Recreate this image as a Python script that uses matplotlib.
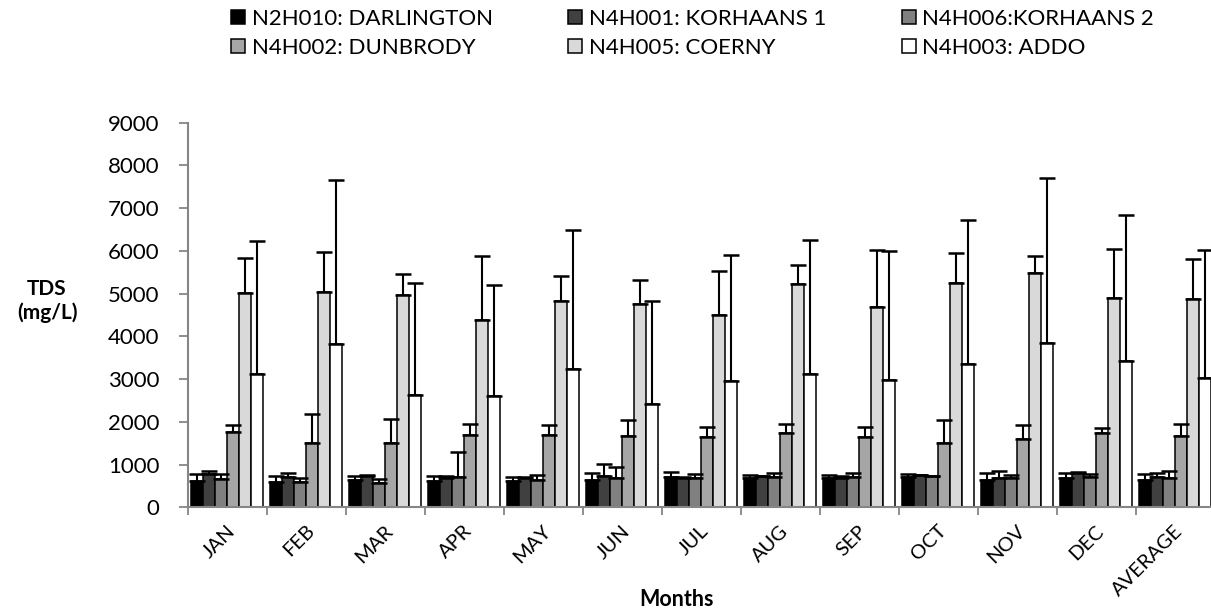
import numpy as np
import matplotlib
matplotlib.use('Agg')
import matplotlib.pyplot as plt
from matplotlib.transforms import ScaledTranslation

plt.rcParams['font.family'] = ['Lato', 'DejaVu Sans']

# datos
meses = ['JAN', 'FEB', 'MAR', 'APR', 'MAY', 'JUN', 'JUL', 'AUG', 'SEP', 'OCT',
         'NOV', 'DEC', 'AVERAGE']

estaciones = ['N2H010: DARLINGTON', 'N4H001: KORHAANS 1', 'N4H006:KORHAANS 2',
              'N4H002: DUNBRODY', 'N4H005: COERNY', 'N4H003: ADDO']

darlington = [620, 590, 640, 620, 620, 640, 700, 680, 690, 720, 650, 690, 650]
darlington_err = [160, 140, 100, 120, 90, 160, 120, 70, 60, 60, 160, 120, 120]

korhaans1 = [770, 720, 730, 680, 680, 740, 680, 730, 690, 750, 680, 810, 710]
korhaans1_err = [70, 90, 20, 50, 20, 270, 20, 10, 50, 10, 180, 10, 100]

korhaans2 = [660, 600, 580, 710, 650, 690, 690, 700, 720, 730, 690, 720, 680]
korhaans2_err = [120, 90, 90, 580, 100, 260, 80, 110, 90, 10, 60, 70, 180]

dunbrody = [1760, 1500, 1510, 1700, 1700, 1680, 1650, 1730, 1650, 1500, 1590, 1750, 1680]
dunbrody_err = [170, 690, 550, 240, 230, 370, 220, 230, 230, 550, 330, 100, 270]

coerny = [5020, 5040, 4960, 4380, 4820, 4760, 4490, 5230, 4680, 5250, 5490, 4900, 4880]
coerny_err = [820, 940, 500, 1500, 600, 550, 1040, 450, 1340, 710, 390, 1150, 940]

addo = [3110, 3810, 2630, 2600, 3240, 2420, 2950, 3120, 2980, 3350, 3850, 3420, 3020]
addo_err = [3120, 3840, 2630, 2600, 3240, 2410, 2950, 3130, 3010, 3370, 3850, 3430, 3000]

valores = [darlington, korhaans1, korhaans2, dunbrody, coerny, addo]
errores = [darlington_err, korhaans1_err, korhaans2_err, dunbrody_err, coerny_err, addo_err]
colores = ['#000000', '#404040', '#808080', '#a6a6a6', '#d9d9d9', '#ffffff']

fig = plt.figure(figsize=(12.11, 6.11), dpi=100)
ax = fig.add_axes([187.7 / 1211, 1 - 507.3 / 611, 1027 / 1211, 384.6 / 611])

x = np.arange(len(meses))
ancho = 0.153
barras = []
for i, (v, e, c) in enumerate(zip(valores, errores, colores)):
    b = ax.bar(x + (i - 2.5) * ancho, v, ancho, color=c, edgecolor='black',
               linewidth=1.1, label=estaciones[i], zorder=2)
    ax.errorbar(x + (i - 2.5) * ancho, v, yerr=[np.zeros(len(e)), e], fmt='none',
                ecolor='black', elinewidth=1.5, capsize=5.5, capthick=1.8, zorder=3)
    barras.append(b)

ax.set_xlim(-0.5, len(meses) - 0.5)
ax.set_ylim(0, 9000)
ax.set_yticks(np.arange(0, 9001, 1000))
ax.tick_params(axis='y', labelsize=16, color='#868686', length=6.5, width=1.3, pad=14)

# ticks de categoria en los limites (estilo Excel)
ax.set_xticks(np.arange(-0.5, len(meses), 1))
ax.set_xticklabels([])
ax.tick_params(axis='x', which='major', color='#868686', length=6, width=1.3)
ax.set_xticks(x, minor=True)
ax.set_xticklabels(meses, minor=True, rotation=45, ha='right', va='center',
                   rotation_mode='anchor', fontsize=14.5)
ax.tick_params(axis='x', which='minor', length=0, pad=15)
desplazamiento = ScaledTranslation(5 / 100, 0, fig.dpi_scale_trans)
for etiqueta in ax.get_xticklabels(minor=True):
    etiqueta.set_transform(etiqueta.get_transform() + desplazamiento)

for lado in ['top', 'right']:
    ax.spines[lado].set_visible(False)
for lado in ['left', 'bottom']:
    ax.spines[lado].set_color('#868686')
    ax.spines[lado].set_linewidth(1.5)

fig.text(47 / 1211, 1 - 301 / 611, 'TDS\n(mg/L)', ha='center', va='center',
         fontsize=15, fontweight='bold', linespacing=1.25)
fig.text(677 / 1211, 1 - 599 / 611, 'Months', ha='center', va='center',
         fontsize=15.5, fontweight='bold')

# leyenda por filas
orden = [0, 3, 1, 4, 2, 5]
fig.legend([barras[k] for k in orden], [estaciones[k] for k in orden], ncol=3,
           loc='upper left', bbox_to_anchor=(231 / 1211, 1 - 9 / 611), frameon=False,
           fontsize=16, handlelength=0.63, handleheight=0.63, handletextpad=0.3,
           columnspacing=3.4, labelspacing=0.4, borderpad=0, borderaxespad=0)

plt.savefig('out.png', dpi=100)
